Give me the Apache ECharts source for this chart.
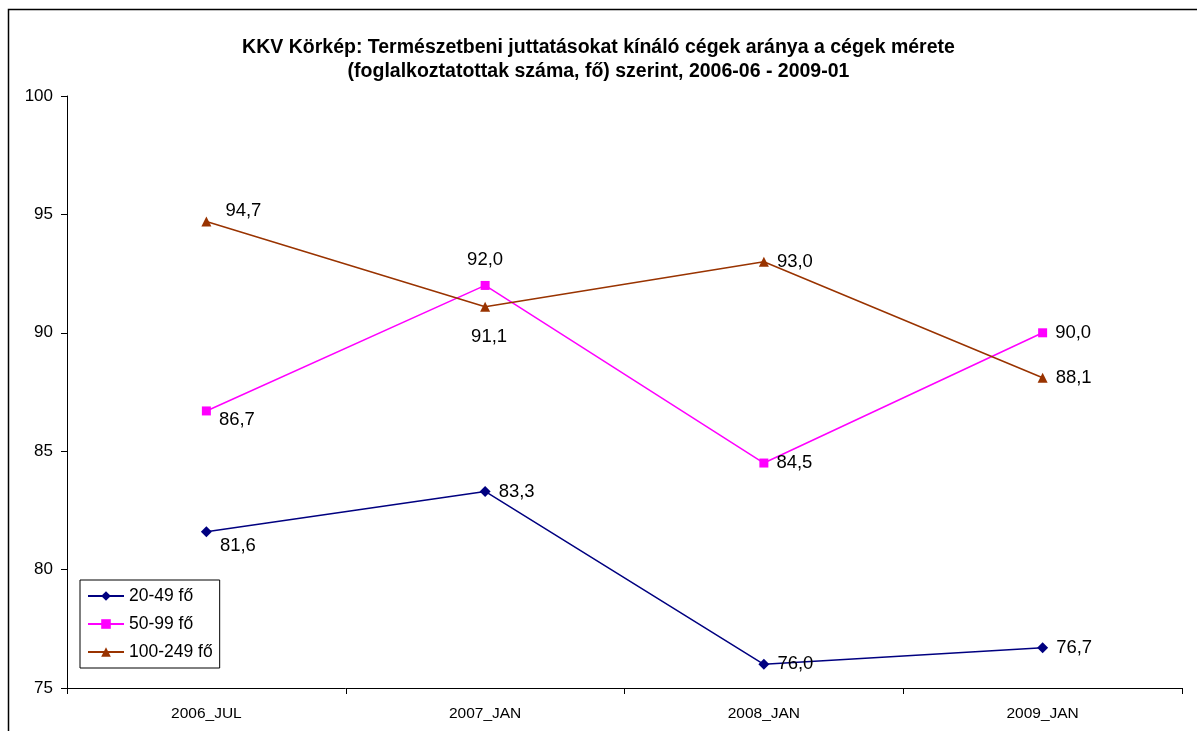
<!DOCTYPE html>
<html>
<head>
<meta charset="utf-8">
<script src="https://cdn.jsdelivr.net/npm/echarts@6/dist/echarts.min.js"></script>
<style>
  html, body { margin: 0; padding: 0; background: #fff; }
  #chart { width: 1197px; height: 731px; }
</style>
</head>
<body>
<div id="chart"></div>
<script>
const categories = ["2006_JUL", "2007_JAN", "2008_JAN", "2009_JAN"];
const small = [81.6, 83.3, 76.0, 76.7];     // 20-49 fő
const medium = [86.7, 92.0, 84.5, 90.0];    // 50-99 fő
const large = [94.7, 91.1, 93.0, 88.1];     // 100-249 fő
const seriesNames = ["20-49 fő", "50-99 fő", "100-249 fő"];

const chart = echarts.init(document.getElementById("chart"));
const font = "Liberation Sans, Arial, sans-serif";

const fmt = p => p.value.toFixed(1).replace(".", ",");

// label placement per point, roughly like the original
const right = { position: "right", distance: 8 };
function points(values, places) {
  return values.map((v, i) => ({ value: v, label: places[i] }));
}

const labelStyle = { show: true, formatter: fmt, fontFamily: font, fontSize: 18.5, color: "#000" };

const option = {
  animation: false,
  backgroundColor: "#fff",
  title: {
    text: "KKV Körkép: Természetbeni juttatásokat kínáló cégek aránya a cégek mérete\n(foglalkoztatottak száma, fő) szerint, 2006-06 - 2009-01",
    left: "center",
    top: 31,
    textStyle: { fontFamily: font, fontSize: 19.5, fontWeight: "bold", color: "#000", lineHeight: 24 }
  },
  graphic: [{
    type: "rect",
    shape: { x: 8.5, y: 9.5, width: 1200, height: 740 },
    style: { fill: null, stroke: "#000", lineWidth: 1.5 },
    silent: true
  }],
  legend: {
    data: seriesNames,
    orient: "vertical",
    left: 80,
    top: 580,
    itemWidth: 36,
    itemHeight: 12,
    itemGap: 8,
    padding: [6, 7, 6, 7],
    borderColor: "#000",
    borderWidth: 1,
    textStyle: { fontFamily: font, fontSize: 17.5, color: "#000", lineHeight: 20 }
  },
  grid: { left: 67, right: 15, top: 96, bottom: 43 },
  xAxis: {
    type: "category",
    data: categories,
    boundaryGap: true,
    axisLine: { lineStyle: { color: "#000", width: 1 } },
    axisTick: { show: true, interval: 0, length: 6, lineStyle: { color: "#000" } },
    axisLabel: { fontFamily: font, fontSize: 15.5, color: "#000", margin: 18 }
  },
  yAxis: {
    type: "value",
    min: 75,
    max: 100,
    interval: 5,
    axisLine: { show: true, lineStyle: { color: "#000", width: 1 } },
    axisTick: { show: true, length: 6, lineStyle: { color: "#000" } },
    splitLine: { show: false },
    axisLabel: { fontFamily: font, fontSize: 17, color: "#000", margin: 14 }
  },
  series: [
    {
      name: seriesNames[0],
      type: "line",
      data: points(small, [
        { position: "right", distance: 8, offset: [0, 14] },
        right, right, right
      ]),
      color: "#000080",
      symbol: "diamond",
      symbolSize: 11,
      lineStyle: { width: 1.5 },
      label: labelStyle
    },
    {
      name: seriesNames[1],
      type: "line",
      data: points(medium, [
        { position: "right", distance: 8, offset: [0, 9] },
        { position: "top", distance: 12 },
        right, right
      ]),
      color: "#FF00FF",
      symbol: "rect",
      symbolSize: 9,
      lineStyle: { width: 1.5 },
      label: labelStyle
    },
    {
      name: seriesNames[2],
      type: "line",
      data: points(large, [
        { position: "right", distance: 10, offset: [4, -11] },
        { position: "bottom", distance: 16, offset: [4, 0] },
        right, right
      ]),
      color: "#993300",
      symbol: "triangle",
      symbolSize: 10,
      lineStyle: { width: 1.5 },
      label: labelStyle
    }
  ]
};

chart.setOption(option);
</script>
</body>
</html>
